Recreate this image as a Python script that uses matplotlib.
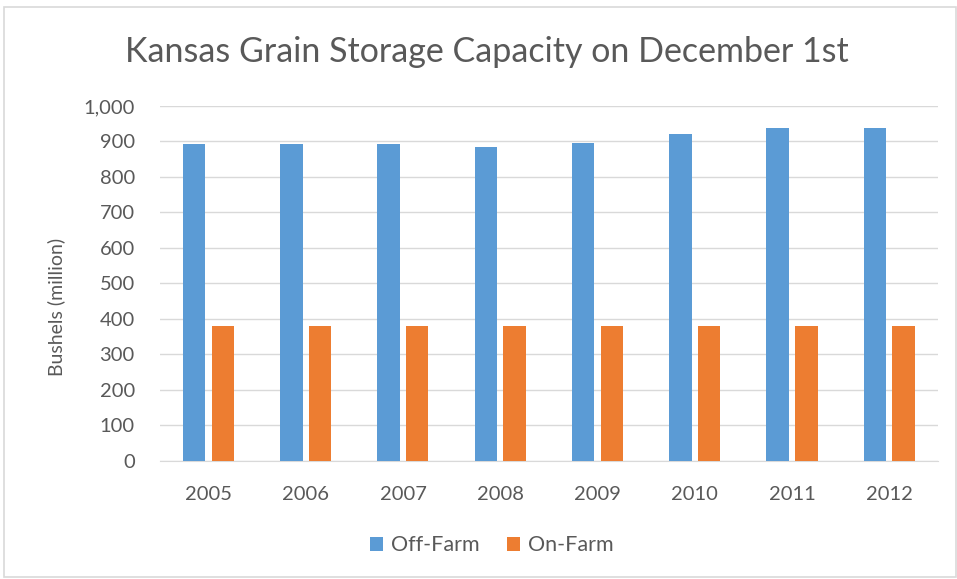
import matplotlib.pyplot as plt
import numpy as np
from matplotlib.patches import Rectangle

plt.rcParams['font.family'] = ['Lato', 'DejaVu Sans']

# Data (million bushels)
years = ['2005', '2006', '2007', '2008', '2009', '2010', '2011', '2012']
off_farm = [892, 892, 892, 884, 895, 921, 939, 938]
on_farm = [380, 380, 380, 380, 380, 380, 380, 380]

blue = '#5B9BD5'
orange = '#ED7D31'
text_col = '#595959'

fig = plt.figure(figsize=(9.57, 5.79), dpi=100)
ax = fig.add_axes([0.167, 0.204, 0.813, 0.613])

x = np.arange(len(years))
w = 0.23
gap = 0.065
ax.bar(x - (w + gap) / 2, off_farm, w, color=blue, label='Off-Farm', zorder=3)
ax.bar(x + (w + gap) / 2, on_farm, w, color=orange, label='On-Farm', zorder=3)

ax.set_xlim(-0.5, len(years) - 0.5)
ax.set_ylim(0, 1000)
ax.set_yticks(range(0, 1001, 100))
ax.set_yticklabels([f'{v:,}' for v in range(0, 1001, 100)])
ax.set_xticks(x)
ax.set_xticklabels(years)
ax.tick_params(axis='both', length=0, labelsize=14.5, colors=text_col)
ax.tick_params(axis='x', pad=18)
ax.tick_params(axis='y', pad=18)

ax.grid(axis='y', color='#D9D9D9', linewidth=1, zorder=0)
for s in ['top', 'right', 'left']:
    ax.spines[s].set_visible(False)
ax.spines['bottom'].set_color('#D9D9D9')

ax.set_ylabel('Bushels (million)', fontsize=14, color=text_col)
ax.yaxis.set_label_coords(-0.122, 0.434)
fig.text(0.509, 0.91, 'Kansas Grain Storage Capacity on December 1st',
         ha='center', va='center', fontsize=24.5, color=text_col)

leg = fig.legend(loc='center', bbox_to_anchor=(0.514, 0.058), ncol=2, frameon=False,
                 fontsize=15.5, handlelength=0.6, handleheight=0.6,
                 handletextpad=0.35, columnspacing=1.3)
for t in leg.get_texts():
    t.set_color(text_col)

# outer chart border
fig.patches.append(Rectangle((0.004, 0.004), 0.995, 0.984, transform=fig.transFigure,
                             fill=False, edgecolor='#D9D9D9', linewidth=1.2))

plt.savefig('out.png', dpi=100)
